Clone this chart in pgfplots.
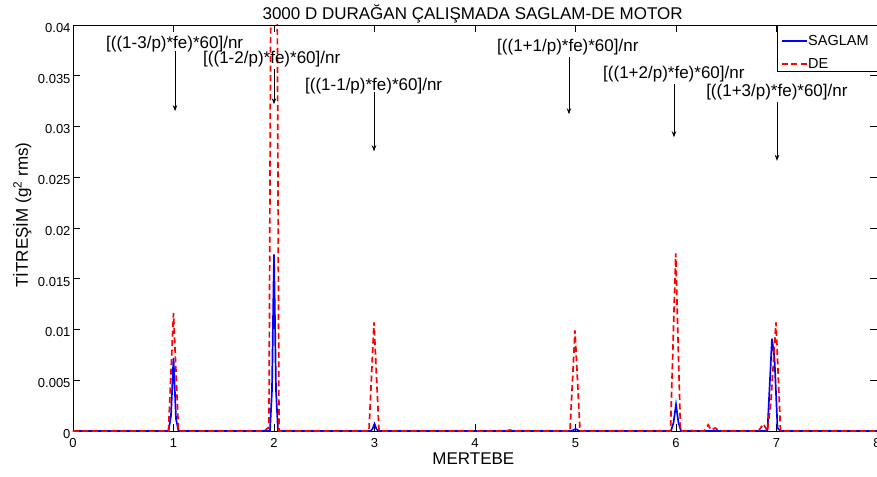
\documentclass[border=0pt]{standalone}
\usepackage{fontspec}
\setmainfont{Liberation Sans}
\usepackage{pgfplots}
\pgfplotsset{compat=1.18}
\usetikzlibrary{arrows.meta}
\begin{document}
\begin{tikzpicture}
\begin{axis}[
  scale only axis, width=804pt, height=406pt,
  xmin=0, xmax=8, ymin=0, ymax=0.04,
  xtick={0,1,...,8},
  ytick={0,0.005,0.01,0.015,0.02,0.025,0.03,0.035,0.04},
  yticklabels={0,0.005,0.01,0.015,0.02,0.025,0.03,0.035,0.04},
  scaled y ticks=false,
  tick align=inside, tickpos=both, major tick length=7pt,
  tick style={black, line width=0.6pt},
  axis line style={black, line width=0.8pt},
  /pgf/number format/assume math mode=true,
  tick label style={font=\fontsize{13}{15}\selectfont},
  xticklabel style={yshift=-4pt},
  yticklabel style={yshift=-3pt, xshift=1pt},
  title={3000 D DURAĞAN ÇALIŞMADA SAGLAM-DE MOTOR},
  title style={font=\fontsize{17}{19}\selectfont, at={(axis description cs:0.497,1)}, anchor=base, yshift=-1pt},
  xlabel={MERTEBE},
  xlabel style={font=\fontsize{17}{19}\selectfont, at={(axis description cs:0.498,0)}, anchor=base, yshift=-33pt},
  ylabel={TİTREŞİM (g\textsuperscript{2} rms)},
  ylabel style={font=\fontsize{17}{19}\selectfont, at={(axis description cs:-0.063,0.532)}, anchor=center},
]
\addplot[blue, line width=1.7pt] coordinates {
 (0,0) (0.95,0) (0.975,0.0015) (1.0,0.0072) (1.025,0.0012) (1.05,0)
 (1.96,0) (1.98,0.004) (2.0,0.0174) (2.02,0.004) (2.04,0)
 (2.96,0) (2.98,0.0002) (3.0,0.0007) (3.02,0.0002) (3.04,0)
 (4.96,0) (5.0,0.0002) (5.04,0)
 (5.95,0) (5.975,0.0008) (6.0,0.0026) (6.025,0.0008) (6.05,0)
 (6.91,0) (6.955,0.0091) (6.98,0.0072) (7.01,0.0003) (7.04,0)
 (8,0)
};
\addplot[red, line width=1.7pt, dash pattern=on 6pt off 3.5pt] coordinates {
 (0,0) (0.95,0) (1.0,0.0116) (1.05,0)
 (1.9,0) (1.94,0.0003) (1.95,0.0003) (2.0,0.118) (2.05,0)
 (2.945,0) (2.995,0.0107) (3.045,0)
 (4.3,0) (4.35,0.0001) (4.4,0)
 (4.945,0) (4.995,0.0099) (5.045,0)
 (5.945,0) (5.997,0.0175) (6.045,0)
 (6.12,0) (6.14,0.0001) (6.17,0)
 (6.28,0) (6.32,0.0006) (6.35,0.0001) (6.39,0.0003) (6.43,0)
 (6.82,0) (6.87,0.0007) (6.91,0) (6.945,0.0030) (6.995,0.0107) (7.04,0)
 (8,0)
};
\begin{scope}[font=\fontsize{17}{19}\selectfont]
\node[anchor=west, inner sep=0pt] at (axis cs:0.328,0.03812) {[((1-3/p)*fe)*60]/nr};
\node[anchor=west, inner sep=0pt] at (axis cs:1.294,0.03664) {[((1-2/p)*fe)*60]/nr};
\node[anchor=west, inner sep=0pt] at (axis cs:2.308,0.03398) {[((1-1/p)*fe)*60]/nr};
\node[anchor=west, inner sep=0pt] at (axis cs:4.219,0.03783) {[((1+1/p)*fe)*60]/nr};
\node[anchor=west, inner sep=0pt] at (axis cs:5.274,0.03516) {[((1+2/p)*fe)*60]/nr};
\node[anchor=west, inner sep=0pt] at (axis cs:6.299,0.03338) {[((1+3/p)*fe)*60]/nr};
\end{scope}
\begin{scope}[-{Stealth[length=6pt,width=4.5pt]}, line width=0.7pt]
\draw (axis cs:1.015,0.03743) -- (axis cs:1.015,0.03151);
\draw (axis cs:2.0,0.03565) -- (axis cs:2.0,0.0322);
\draw (axis cs:2.995,0.03338) -- (axis cs:2.995,0.02756);
\draw (axis cs:4.935,0.03684) -- (axis cs:4.935,0.03121);
\draw (axis cs:5.98,0.03417) -- (axis cs:5.98,0.02894);
\draw (axis cs:7.005,0.0324) -- (axis cs:7.005,0.02662);
\end{scope}
% legend
\draw[black, line width=0.7pt, fill=white] (axis description cs:0.8756,1) rectangle (axis description cs:1,0.8867);
\draw[blue, line width=1.7pt] (axis description cs:0.8818,0.9606) -- (axis description cs:0.9129,0.9606);
\draw[red, line width=1.7pt, dash pattern=on 6pt off 3.5pt] (axis description cs:0.8818,0.9039) -- (axis description cs:0.9129,0.9039);
\node[anchor=west, inner sep=0pt, font=\fontsize{14.5}{16}\selectfont] at (axis description cs:0.9142,0.9606) {SAGLAM};
\node[anchor=west, inner sep=0pt, font=\fontsize{14.5}{16}\selectfont] at (axis description cs:0.9142,0.9039) {DE};
\end{axis}
\pgfresetboundingbox
\useasboundingbox (-73pt,-45pt) rectangle (804pt,431pt);
\end{tikzpicture}
\end{document}
